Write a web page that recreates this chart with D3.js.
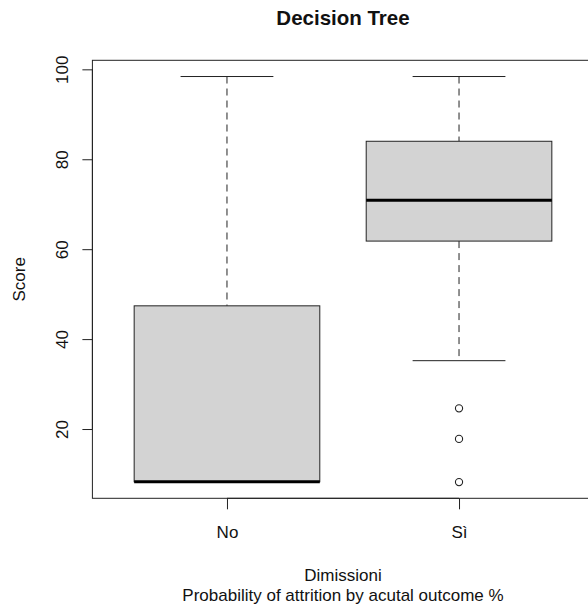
<!DOCTYPE html>
<html>
<head>
<meta charset="utf-8">
<script src="https://cdn.jsdelivr.net/npm/d3@7"></script>
<style>
  html, body { margin: 0; padding: 0; background: #fff; }
  svg { display: block; font-family: "Liberation Sans", Arial, Helvetica, sans-serif; }
</style>
</head>
<body>
<script>
// Groups and five-number summaries of the score distribution
const categories = ["No", "Sì"];
const whiskerLow = [8.27, 35.2];
const boxLow     = [8.27, 61.8];
const medians    = [8.27, 70.9];
const boxHigh    = [47.4, 84.0];
const whiskerHigh = [98.4, 98.4];
// Points outside the whiskers, per group
const outliers = [[], [24.6, 17.8, 8.2]];
const yTicks = [20, 40, 60, 80, 100];

const title = "Decision Tree";
const xTitle = ["Dimissioni", "Probability of attrition by acutal outcome %"];
const yTitle = "Score";

const W = 588, H = 610;
const plot = { left: 92.4, right: 593.6, top: 60.3, bottom: 498.3 };
const fs = 17;

const svg = d3.select("body").append("svg").attr("width", W).attr("height", H);

// Value range padded by 4% on each side
const allVals = whiskerLow.concat(whiskerHigh, outliers.flat());
const lo = d3.min(allVals), hi = d3.max(allVals);
const pad = (hi - lo) * 0.04;
const y = d3.scaleLinear().domain([lo - pad, hi + pad]).range([plot.bottom, plot.top]);

// Group positions 1..n, padded
const n = categories.length;
const xr = n * 0.04;
const x = d3.scaleLinear().domain([0.5 - xr, n + 0.5 + xr]).range([plot.left, plot.right]);

const boxHalf = 0.4, stapleHalf = 0.2;
const ink = "#222";

categories.forEach((c, i) => {
  const cx = x(i + 1);
  const g = svg.append("g");
  // dashed whiskers
  g.append("line").attr("x1", cx).attr("x2", cx)
    .attr("y1", y(whiskerHigh[i])).attr("y2", y(boxHigh[i]))
    .attr("stroke", ink).attr("stroke-dasharray", "7,5");
  g.append("line").attr("x1", cx).attr("x2", cx)
    .attr("y1", y(boxLow[i])).attr("y2", y(whiskerLow[i]))
    .attr("stroke", ink).attr("stroke-dasharray", "7,5");
  // staples
  [whiskerHigh[i], whiskerLow[i]].forEach(v => {
    g.append("line")
      .attr("x1", x(i + 1 - stapleHalf)).attr("x2", x(i + 1 + stapleHalf))
      .attr("y1", y(v)).attr("y2", y(v))
      .attr("stroke", ink);
  });
  // box
  g.append("rect")
    .attr("x", x(i + 1 - boxHalf)).attr("width", x(i + 1 + boxHalf) - x(i + 1 - boxHalf))
    .attr("y", y(boxHigh[i])).attr("height", y(boxLow[i]) - y(boxHigh[i]))
    .attr("fill", "#d3d3d3").attr("stroke", ink);
  // median
  g.append("line")
    .attr("x1", x(i + 1 - boxHalf)).attr("x2", x(i + 1 + boxHalf))
    .attr("y1", y(medians[i])).attr("y2", y(medians[i]))
    .attr("stroke", "#000").attr("stroke-width", 3);
  // outliers
  g.selectAll("circle").data(outliers[i]).join("circle")
    .attr("cx", cx).attr("cy", d => y(d)).attr("r", 3.6)
    .attr("fill", "none").attr("stroke", ink).attr("stroke-width", 1.1);
});

// frame
svg.append("rect")
  .attr("x", plot.left).attr("y", plot.top)
  .attr("width", plot.right - plot.left).attr("height", plot.bottom - plot.top)
  .attr("fill", "none").attr("stroke", ink);

// y axis
const yAxis = d3.axisLeft(y).tickValues(yTicks).tickSize(10).tickPadding(0).tickFormat(d3.format("d"));
const ya = svg.append("g").attr("transform", `translate(${plot.left},0)`).call(yAxis);
ya.select(".domain").attr("stroke", ink)
  .attr("d", `M0,${y(yTicks[0])}V${y(yTicks[yTicks.length - 1])}`);
ya.selectAll(".tick line").attr("stroke", ink);
ya.selectAll(".tick text")
  .attr("font-size", fs).attr("fill", "#111")
  .attr("text-anchor", "middle")
  .attr("x", null)
  .attr("transform", "translate(-24.4,0) rotate(-90)")
  .attr("dy", "0");

// x axis
const xAxis = d3.axisBottom(x).tickValues(d3.range(1, n + 1)).tickSize(11).tickPadding(0)
  .tickFormat(d => categories[d - 1]);
const xa = svg.append("g").attr("transform", `translate(0,${plot.bottom})`).call(xAxis);
xa.select(".domain").attr("stroke", ink).attr("d", `M${x(1)},0H${x(n)}`);
xa.selectAll(".tick line").attr("stroke", ink);
xa.selectAll(".tick text").attr("font-size", fs).attr("fill", "#111")
  .attr("y", 39.5).attr("dy", "0");

// titles
svg.append("text").attr("x", x(1.5)).attr("y", 25)
  .attr("text-anchor", "middle").attr("font-size", 20.5).attr("font-weight", "bold")
  .attr("fill", "#111").text(title);

xTitle.forEach((t, k) => {
  svg.append("text").attr("x", x(1.5)).attr("y", 581 + k * 20)
    .attr("text-anchor", "middle").attr("font-size", fs).attr("fill", "#111").text(t);
});

svg.append("text")
  .attr("transform", `translate(25,${(plot.top + plot.bottom) / 2}) rotate(-90)`)
  .attr("text-anchor", "middle").attr("font-size", fs).attr("fill", "#111").text(yTitle);
</script>
</body>
</html>
